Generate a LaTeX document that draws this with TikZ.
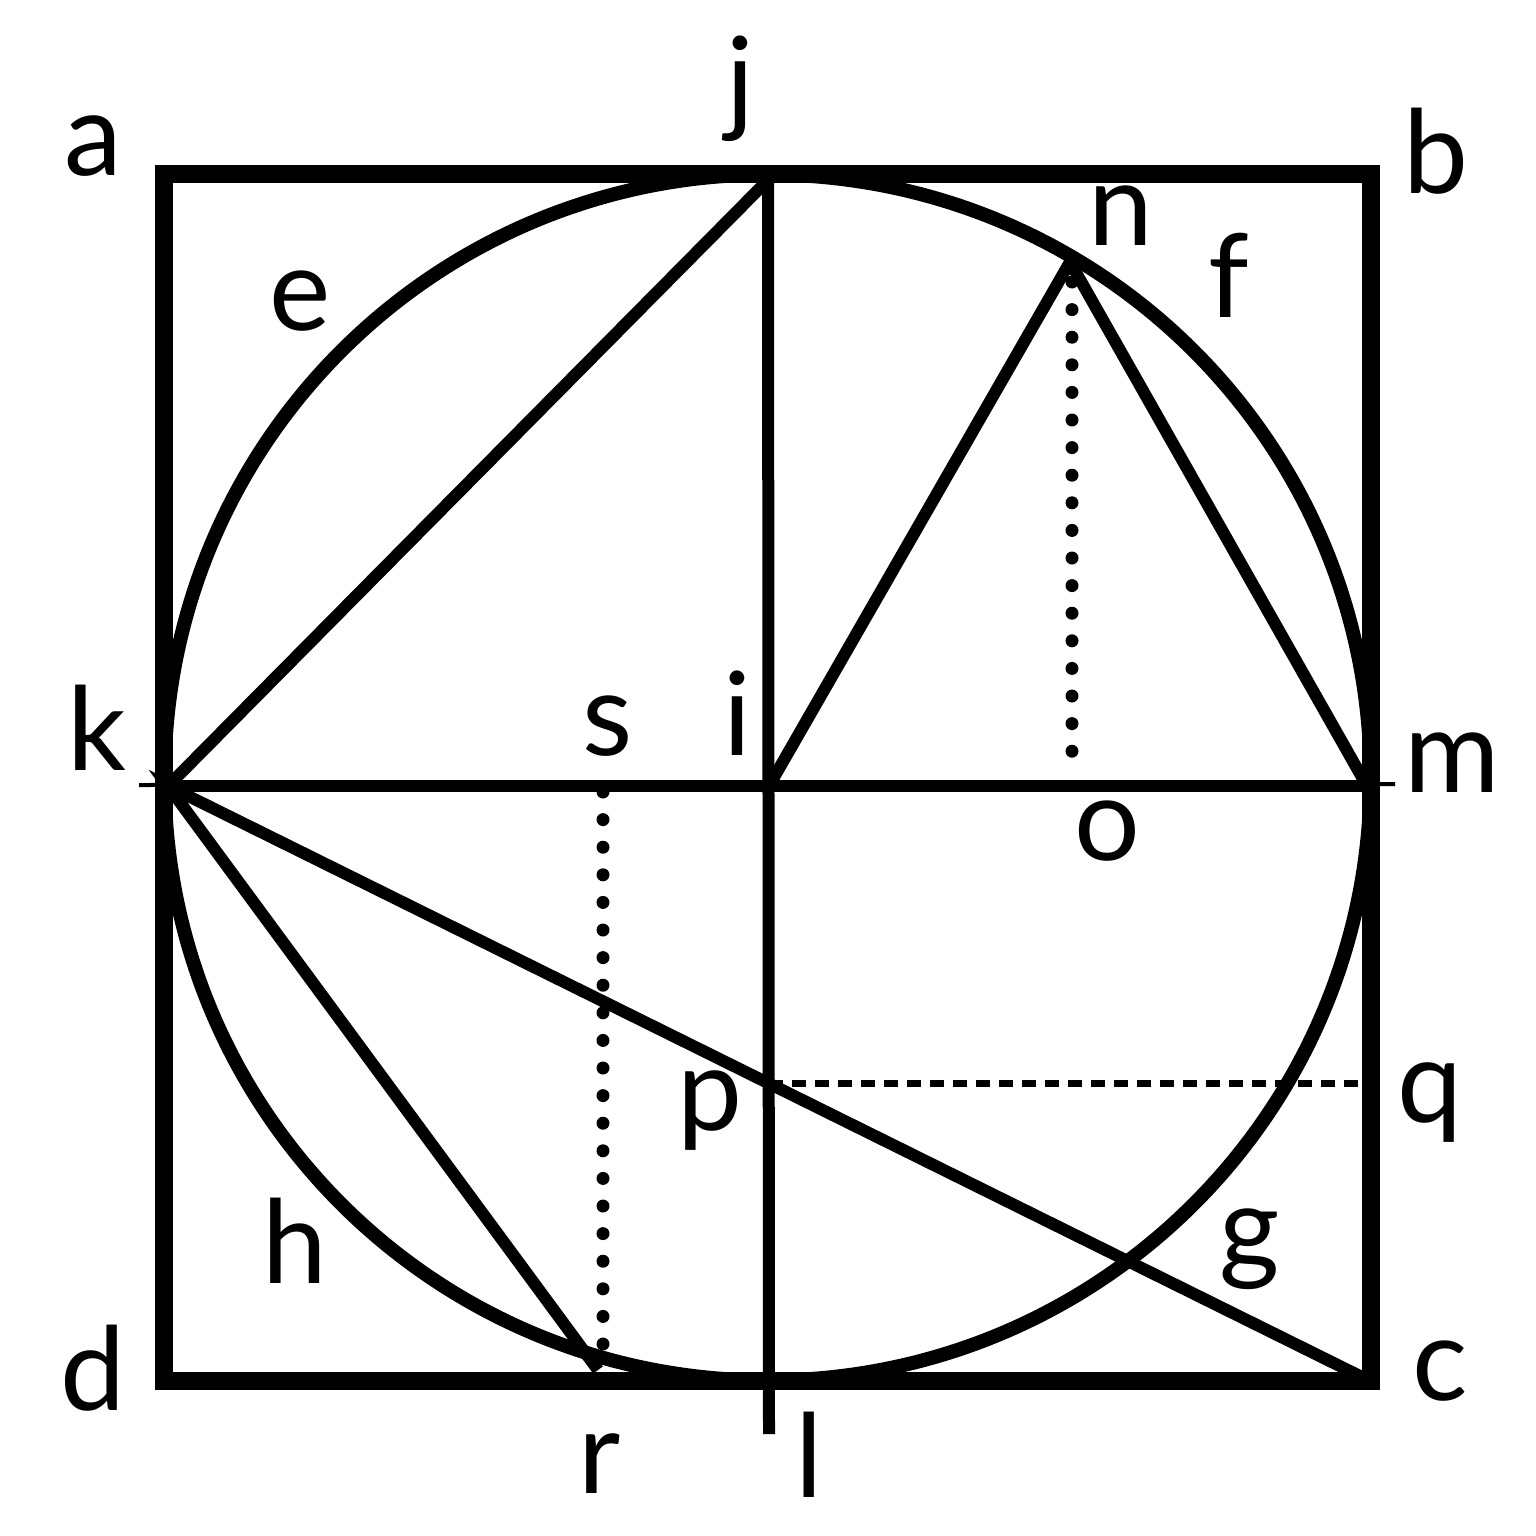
\documentclass[tikz,border=0pt]{standalone}
\usepackage{fontspec}
\setmainfont{Lato}
\begin{document}
\begin{tikzpicture}[x=0.5pt,y=-0.5pt,
  lbl/.style={anchor=base,inner sep=0pt,font=\fontsize{58}{60}\selectfont},
  sq/.style={line width=9pt,line cap=rect,line join=miter},
  circ/.style={line width=7pt},
  seg/.style={line width=6pt,line join=miter},
  dotline/.style={line width=6.5pt,line cap=round,dash pattern=on 0pt off 13.8pt},
  dashline/.style={line width=3.5pt,dash pattern=on 7pt off 4.5pt}]
\useasboundingbox (0,0) rectangle (1536,1536);
% points
\coordinate (A) at (164,173.5);
\coordinate (B) at (1371,173.5);
\coordinate (C) at (1371,1381);
\coordinate (D) at (164,1381);
\coordinate (O) at (767.5,777.5);
\coordinate (K) at (168,786);
\coordinate (M) at (1367,786);
\coordinate (J) at (768,180);
\coordinate (I) at (769,786);
\coordinate (L) at (769,1434);
\coordinate (N) at (1070,262);
\coordinate (Nb) at (1072,282);
\coordinate (Ob) at (1072,765);
\coordinate (S) at (603,792);
\coordinate (Sb) at (603,1360);
\coordinate (R) at (598,1370);
\coordinate (Cc) at (1364,1378);
\coordinate (P) at (769,1083);
\coordinate (Q) at (1366,1083);
\coordinate (Kx) at (139,785);
\coordinate (Mx) at (1395,784);
% square and circle
\draw[sq] (A) -- (B) -- (C) -- (D) -- cycle;
\draw[circ] (O) circle[radius=603];
% lines
\draw[line width=2pt] (Kx) -- (Mx);
\draw[seg] (K) -- (M);
\draw[seg] (J) -- (L);
\draw[seg] (K) -- (J);
\draw[seg] (I) -- (N) -- (M);
\draw[seg] (R) -- (K) -- (Cc);
\draw[dotline] (Nb) -- (Ob);
\draw[dotline] (S) -- (Sb);
\draw[dashline] (P) -- (Q);
% labels
\node[lbl] (la) at (93,176) {a};
\node[lbl] (lb) at (1436,193) {b};
\node[lbl] (lc) at (1440,1400) {c};
\node[lbl] (ld) at (93,1410) {d};
\node[lbl] (le) at (300,330) {e};
\node[lbl] (lf) at (1229,317) {f};
\node[lbl] (lg) at (1250,1268) {g};
\node[lbl] (lh) at (295,1283) {h};
\node[lbl] (li) at (737,755) {i};
\node[lbl] (lj) at (740,120) {j};
\node[lbl] (lk) at (97,770) {k};
\node[lbl] (ll) at (809,1497) {l};
\node[lbl] (lm) at (1452,792) {m};
\node[lbl] (ln) at (1121,245) {n};
\node[lbl] (lo) at (1107,860) {o};
\node[lbl] (lp) at (710,1130) {p};
\node[lbl] (lq) at (1430,1122) {q};
\node[lbl] (lr) at (600,1493) {r};
\node[lbl] (ls) at (608,755) {s};
\end{tikzpicture}
\end{document}
